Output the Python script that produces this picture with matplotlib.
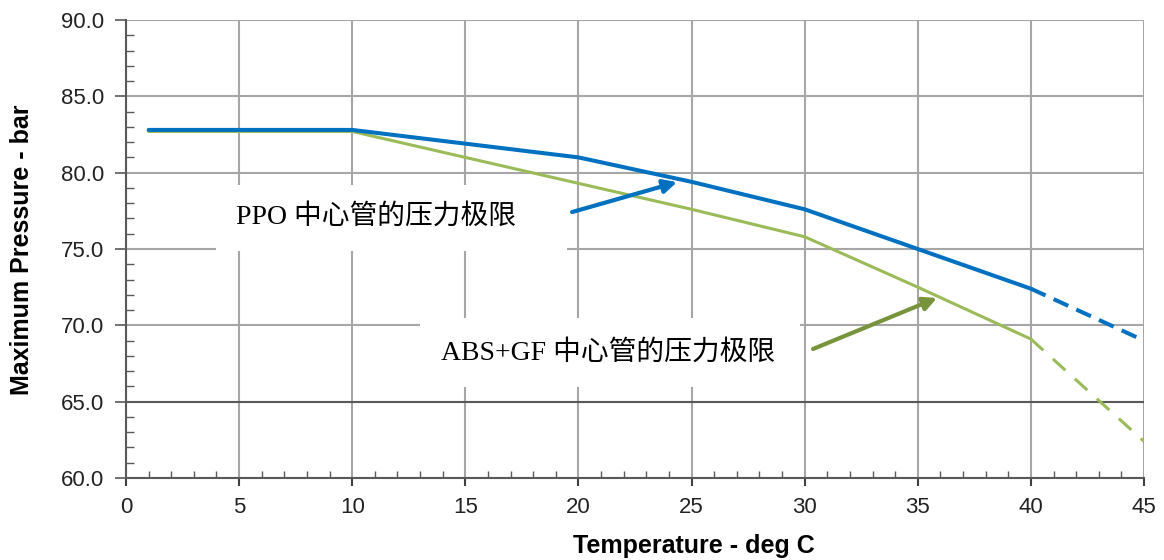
import matplotlib
matplotlib.use("Agg")
import matplotlib.pyplot as plt
from matplotlib.patches import Rectangle, FancyArrowPatch
from matplotlib.ticker import MultipleLocator

# ---- data ----
temp_solid = [1, 10, 15, 20, 25, 30, 35, 40]
ppo_solid = [82.8, 82.8, 81.9, 81.0, 79.4, 77.6, 75.0, 72.4]
abs_solid = [82.7, 82.7, 81.0, 79.3, 77.6, 75.8, 72.5, 69.1]
temp_ext = [40, 45]
ppo_ext = [72.4, 69.0]
abs_ext = [69.1, 62.4]
label_ppo = "PPO 中心管的压力极限"
label_abs = "ABS+GF 中心管的压力极限"
x_label = "Temperature - deg C"
y_label = "Maximum Pressure - bar"

BLUE = "#0070C0"
GREEN = "#9BBB59"
ARROW_GREEN = "#77933C"

fig = plt.figure(figsize=(11.64, 5.6), dpi=100)
ax = fig.add_axes([126/1164, 1-478/560, (1144-126)/1164, (478-20)/560])

ax.set_xlim(0, 45)
ax.set_ylim(60, 90)
ax.xaxis.set_major_locator(MultipleLocator(5))
ax.xaxis.set_minor_locator(MultipleLocator(1))
ax.yaxis.set_major_locator(MultipleLocator(5))
ax.yaxis.set_minor_locator(MultipleLocator(1))
ax.yaxis.set_major_formatter(matplotlib.ticker.FormatStrFormatter("%.1f"))

ax.grid(True, which="major", color="#A6A6A6", linewidth=1.5, zorder=0)
ax.set_axisbelow(True)
ax.axhline(65, color="#595959", linewidth=1.5, zorder=0.6)

for s in ["top", "right"]:
    ax.spines[s].set_visible(False)
for s in ["left", "bottom"]:
    ax.spines[s].set_color("#595959")
    ax.spines[s].set_linewidth(1.5)

ax.tick_params(axis="y", which="major", direction="out", length=8, width=1.2,
               color="#595959", labelsize=16, pad=8)
ax.tick_params(axis="y", which="minor", direction="in", length=6, width=1.0,
               color="#595959")
ax.tick_params(axis="x", which="major", direction="out", length=6, width=1.5,
               color="#404040", labelsize=16, pad=8)
ax.tick_params(axis="x", which="minor", direction="in", length=5, width=1.0,
               color="#595959")
for lab in ax.get_xticklabels() + ax.get_yticklabels():
    lab.set_fontfamily("Liberation Sans")
    lab.set_color("#222222")

# white boxes behind annotation text
ax.add_patch(Rectangle((3.98, 74.87), 19.5-3.98, 79.19-74.87, facecolor="white",
                       edgecolor="none", zorder=1))
ax.add_patch(Rectangle((13.0, 65.96), 29.8-13.0, 70.48-65.96, facecolor="white",
                       edgecolor="none", zorder=1))

# data lines
ax.plot(temp_solid, ppo_solid, color=BLUE, linewidth=2.9, zorder=3,
        solid_capstyle="round")
ax.plot(temp_ext, ppo_ext, color=BLUE, linewidth=2.9, zorder=3,
        linestyle=(0, (4, 2.2)))
ax.plot(temp_solid, abs_solid, color=GREEN, linewidth=2.2, zorder=2,
        solid_capstyle="round")
ax.plot(temp_ext, abs_ext, color=GREEN, linewidth=2.2, zorder=2,
        linestyle=(0, (5.5, 4.2)))

# annotation texts
fam = ["Liberation Serif", "Noto Sans CJK SC"]
ax.text(11.05, 77.09, label_ppo, family=fam, fontsize=20, ha="center",
        va="center", color="black", zorder=4)
ax.text(21.3, 68.19, label_abs, family=fam, fontsize=20, ha="center",
        va="center", color="black", zorder=4)

# arrows
ax.add_patch(FancyArrowPatch((19.72, 77.42), (24.36, 79.38),
                             arrowstyle="-|>,head_length=8,head_width=4",
                             color=BLUE, linewidth=3, zorder=5,
                             shrinkA=0, shrinkB=0))
ax.add_patch(FancyArrowPatch((30.37, 68.45), (35.85, 71.79),
                             arrowstyle="-|>,head_length=8,head_width=4",
                             color=ARROW_GREEN, linewidth=3, zorder=5,
                             shrinkA=0, shrinkB=0))

fig.text(694/1164, 1-546/560, x_label, ha="center", va="center",
         fontsize=18, fontweight="bold", family="Liberation Sans", color="black")
fig.text(22/1164, 1-250/560, y_label, ha="center", va="center", rotation=90,
         fontsize=18, fontweight="bold", family="Liberation Sans", color="black")

fig.savefig("out.png", dpi=100)
